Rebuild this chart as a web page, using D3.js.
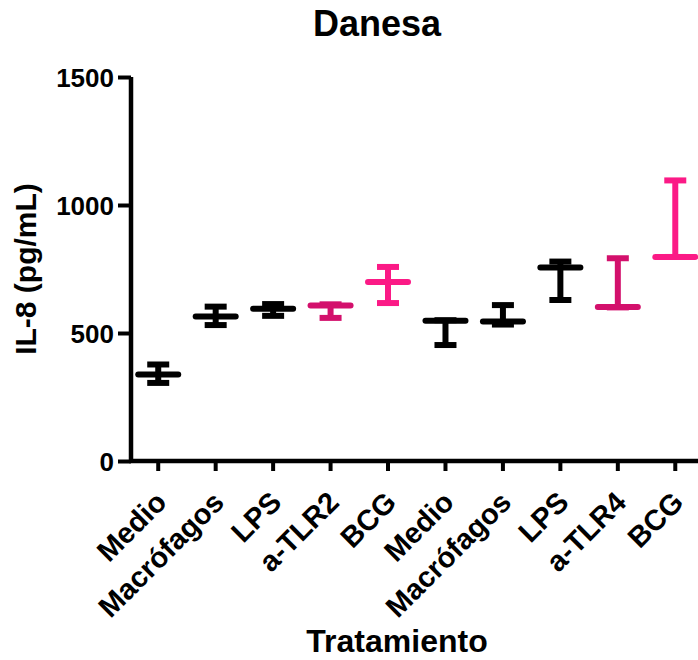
<!DOCTYPE html>
<html>
<head>
<meta charset="utf-8">
<script src="https://cdn.jsdelivr.net/npm/d3@7"></script>
<style>
  html, body { margin: 0; padding: 0; background: #fff; }
  svg { display: block; }
  text { font-family: "Liberation Sans", Arial, sans-serif; font-weight: bold; fill: #000; }
</style>
</head>
<body>
<svg id="chart" width="698" height="660"></svg>
<script>
// IL-8 (pg/mL) per treatment: mean with upper and lower error limits
const categories = ["Medio", "Macrófagos", "LPS", "a-TLR2", "BCG",
                    "Medio", "Macrófagos", "LPS", "a-TLR4", "BCG"];
const groups = ["base", "base", "base", "tlr", "bcg",
                "base", "base", "base", "tlr", "bcg"];
const means = [338, 564, 595, 607, 699, 548, 545, 756, 602, 797];
const upper = [377, 603, 613, 612, 758, 550, 609, 779, 792, 1096];
const lower = [305, 531, 567, 559, 617, 453, 533, 629, 600, 797];
const yTicks = [0, 500, 1000, 1500];

const svg = d3.select("#chart");

const x = d3.scaleBand()
  .domain(d3.range(categories.length))
  .range([129.5, 704])
  .padding(0);

const y = d3.scaleLinear()
  .domain([0, 1500])
  .range([461, 77]);

const color = d3.scaleOrdinal()
  .domain(["base", "tlr", "bcg"])
  .range(["#000000", "#d3106c", "#fb1a86"]);

const cx = i => x(i) + x.bandwidth() / 2;

// Y axis
const yAxis = svg.append("g")
  .attr("transform", `translate(${131},0)`)
  .call(d3.axisLeft(y).tickValues(yTicks).tickSize(13).tickPadding(4).tickFormat(d3.format("d")));
yAxis.select(".domain").attr("d", `M0,${y(1500)}V${y(0)}`).attr("stroke-width", 4.5);
yAxis.selectAll(".tick line").attr("stroke-width", 4);
yAxis.selectAll(".tick text").style("font-size", "26px").attr("dy", "0.36em");

// X axis
const xAxis = svg.append("g")
  .attr("transform", `translate(0,${y(0)})`)
  .call(d3.axisBottom(x).tickSize(10).tickFormat(i => categories[i]));
xAxis.select(".domain").attr("d", `M129,0H698`).attr("stroke-width", 4.5);
xAxis.selectAll(".tick line").attr("stroke-width", 4);
xAxis.selectAll(".tick text")
  .style("font-size", "29px")
  .attr("text-anchor", "end")
  .attr("y", 0).attr("dy", 0)
  .attr("transform", "translate(10,43) rotate(-45)");

// Error bars: stem, caps and mean line
const marks = svg.append("g").selectAll("g")
  .data(d3.range(categories.length))
  .join("g")
  .attr("stroke", i => color(groups[i]))
  .attr("stroke-width", 6)
  .attr("fill", "none");

marks.append("line")
  .attr("x1", cx).attr("x2", cx)
  .attr("y1", i => y(upper[i])).attr("y2", i => y(lower[i]));
marks.append("line")
  .attr("x1", i => cx(i) - 11).attr("x2", i => cx(i) + 11)
  .attr("y1", i => y(upper[i])).attr("y2", i => y(upper[i]));
marks.append("line")
  .attr("x1", i => cx(i) - 11).attr("x2", i => cx(i) + 11)
  .attr("y1", i => y(lower[i])).attr("y2", i => y(lower[i]));
marks.append("line")
  .attr("stroke-linecap", "round")
  .attr("x1", i => cx(i) - 20).attr("x2", i => cx(i) + 20)
  .attr("y1", i => y(means[i])).attr("y2", i => y(means[i]));

// Titles
svg.append("text")
  .attr("x", 377).attr("y", 36)
  .attr("text-anchor", "middle")
  .style("font-size", "36px")
  .text("Danesa");

svg.append("text")
  .attr("transform", `translate(36,${(y(0) + y(1500)) / 2}) rotate(-90)`)
  .attr("text-anchor", "middle")
  .style("font-size", "30px")
  .text("IL-8 (pg/mL)");

svg.append("text")
  .attr("x", 397).attr("y", 652)
  .attr("text-anchor", "middle")
  .style("font-size", "32px")
  .text("Tratamiento");
</script>
</body>
</html>
